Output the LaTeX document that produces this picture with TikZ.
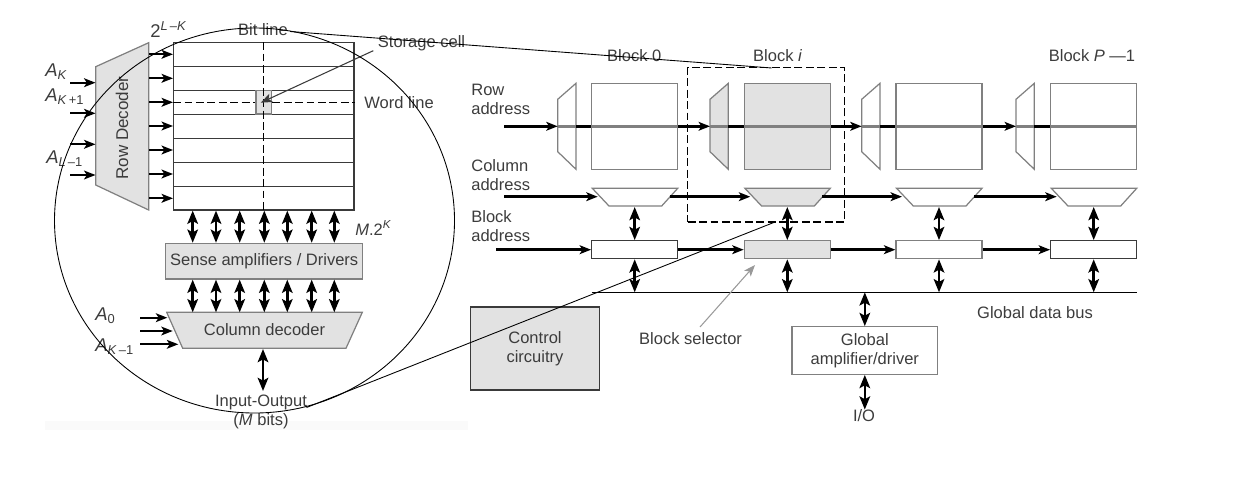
\documentclass[tikz,border=0pt]{standalone}
\usepackage{fontspec}
\setmainfont{Liberation Sans}
\usetikzlibrary{arrows.meta}
\definecolor{shade}{HTML}{E2E2E2}
\definecolor{edgegray}{HTML}{808080}
\definecolor{edgedark}{HTML}{3A3A3A}
\definecolor{txtgray}{HTML}{3C3C3C}
\tikzset{
  >={Stealth[length=6.5pt, width=5pt, inset=1.6pt]},
  label/.style={inner sep=0pt, text=txtgray, font=\fontsize{9.4}{10.9}\selectfont, align=center},
  ilabel/.style={label, anchor=west, font=\fontsize{10.5}{12}\selectfont},
  box/.style={draw=edgegray, line width=0.7pt, inner sep=0pt, text=txtgray, align=center, font=\fontsize{9.4}{10.9}\selectfont},
  thickline/.style={line width=1.7pt, black},
  grayline/.style={line width=1.5pt, edgegray},
  onearrow/.style={->, line width=1.5pt, black},
  bidir/.style={{Stealth[length=7.5pt, width=6pt, inset=1.6pt]}-{Stealth[length=7.5pt, width=6pt, inset=1.6pt]}, line width=1.4pt, black},
  leader/.style={->, line width=0.6pt, edgegray},
  thin line/.style={line width=0.5pt, black},
  longdash/.style={dash pattern=on 4.5pt off 2pt, black, line width=0.7pt}
}
\newcommand{\ital}[1]{\textit{#1}}
\begin{document}
\begin{tikzpicture}[x=0.02cm, y=-0.02cm]
	\useasboundingbox (0,0) rectangle (1240,490);

	% The faint strip under the lens
		\fill [black!2] (45,421) rectangle (468,430);

	% Row decoder and its inputs
		\draw [draw=edgegray, fill=shade, line width=0.7pt] (95.7,66.7) -- (148.7,42.7) -- (148.7,210) -- (95.7,185) -- cycle;
		\node [label, rotate=90, font=\fontsize{9.7}{10}\selectfont] (rowdecoder) at (122,128) {Row Decoder};
		\foreach \i/\y in {0/82.7, 1/113.3, 2/144.3, 3/175} {
			\coordinate (ain\i) at (70,\y);
			\coordinate (dec\i) at (95.5,\y);
			\draw [onearrow, line width=1.3pt] (ain\i) -- (dec\i);
			}

	% The memory array
		\node [box, draw=edgedark, minimum width=180.3*0.02cm, minimum height=167.3*0.02cm] (array) at (263.85,126.35) {};
		\foreach \y in {66.7, 90.7, 114, 138, 162, 186} {
			\coordinate (wleft) at (173.7,\y);
			\coordinate (wright) at (354,\y);
			\draw [edgedark, line width=0.5pt] (wleft) -- (wright);
			}
		\foreach \i/\y in {0/54.3, 1/78.3, 2/102.3, 3/126, 4/150, 5/174, 6/198.3} {
			\coordinate (dout\i) at (149,\y);
			\coordinate (wire\i) at (173,\y);
			\draw [onearrow, line width=1.3pt] (dout\i) -- (wire\i);
			}
		\node [box, fill=shade, minimum width=15.7*0.02cm, minimum height=23.3*0.02cm] (cell) at (263.85,102.35) {};
		\draw [longdash] (array.north) -- (array.south);
		\draw [longdash] (array.west |- cell) -- (cell.west);
		\draw [longdash] (cell.east) -- (array.east |- cell);

	% Sense amplifiers, column decoder and the lines between them
		\node [box, fill=shade, minimum width=197*0.02cm, minimum height=35.7*0.02cm] (sense) at (264.2,261.2) {Sense amplifiers / Drivers};
		\draw [draw=edgegray, fill=shade, line width=0.7pt] (166.7,312.3) -- (362.3,312.3) -- (346,348.3) -- (182.7,348.3) -- cycle;
		\node [label] (coldecoder) at (264.5,330) {Column decoder};
		\coordinate (coltop) at (264.5,312.3);
		\coordinate (colbot) at (263,349);
		\coordinate (ioend) at (263,391);
		\foreach \i/\x in {0/192.7, 1/216, 2/239.7, 3/264.3, 4/287.3, 5/311.7, 6/334.3} {
			\coordinate (tap\i) at (\x,0);
			\draw [bidir] (array.south -| tap\i) -- (sense.north -| tap\i);
			\draw [bidir] (sense.south -| tap\i) -- (coltop -| tap\i);
			}
		\draw [bidir] (colbot) -- (ioend);
		\foreach \i/\y/\e in {0/317.7/167.3, 1/331/172.7, 2/344.3/178.3} {
			\coordinate (cin\i) at (140,\y);
			\coordinate (cout\i) at (\e,\y);
			\draw [onearrow, line width=1.1pt] (cin\i) -- (cout\i);
			}

	% Labels of the left part
		\node [ilabel] (ak) at (45,72) {\ital{A}\textsubscript{\ital{K}}};
		\node [ilabel] (akone) at (45,97) {\ital{A}\textsubscript{\ital{K}\,+1}};
		\node [ilabel] (alone) at (46,159) {\ital{A}\textsubscript{\ital{L}\,--1}};
		\node [ilabel] (azero) at (95,316) {\ital{A}\textsubscript{0}};
		\node [ilabel] (akminus) at (95,347) {\ital{A}\textsubscript{\ital{K}\,--1}};
		\node [ilabel] (twopow) at (150,30) {2\textsuperscript{\ital{L\,--K}}};
		\node [label] (bitline) at (263,29.5) {Bit line};
		\node [label] (storage) at (421.5,43) {Storage cell};
		\node [label] (wordline) at (399,103) {Word line};
		\node [label, anchor=west] (mtwo) at (355,228) {\ital{M}.2\textsuperscript{\ital{K}}};
		\node [label] (inout) at (261,412) {Input-Output\\(\ital{M} bits)};
		\coordinate (cellfoot) at (373.3,50.7);
		\coordinate (cellhead) at (260.7,102.7);
		\draw [leader, edgedark] (cellfoot) -- (cellhead);

	% The four blocks: number/left edge/decoder edge/fill/edge of the selector
		\foreach \n/\x/\d/\fc/\sc in {0/591.7/557.7/white/edgedark, 1/744.3/710/shade/edgegray, 2/896/861.7/white/edgegray, 3/1050.7/1016/white/edgedark} {
			\draw [draw=edgegray, fill=\fc, line width=0.7pt] (\d,99.3) -- (\d+18.3,83.3) -- (\d+18.3,169.3) -- (\d,151.7) -- cycle;
			\node [box, fill=\fc, minimum width=86*0.02cm, minimum height=86*0.02cm] (mem\n) at (\x+43,126.3) {};
			\draw [draw=edgegray, fill=\fc, line width=0.7pt] (\x+0.6,188.3) -- (\x+86,188.3) -- (\x+70,206) -- (\x+17.3,206) -- cycle;
			\node [box, fill=\fc, draw=\sc, minimum width=86*0.02cm, minimum height=18*0.02cm] (sel\n) at (\x+43,249.7) {};
			\coordinate (rdecw\n) at (\d,126.3);
			\coordinate (rdece\n) at (\d+18.3,126.3);
			\coordinate (cdecw\n) at (\x+6,196.7);
			\coordinate (cdece\n) at (\x+78,196.7);
			\coordinate (cdecs\n) at (\x+43,207);
			}
		\coordinate (busw) at (591.7,292.3);
		\coordinate (buse) at (1136.5,292.3);
		\draw [thin line, line width=0.7pt] (busw) -- (buse);
		\foreach \n in {0,1,2,3} {
			\draw [thickline] (rdece\n) -- (mem\n.west);
			\draw [grayline] (rdecw\n) -- (rdece\n);
			\draw [grayline] (mem\n.west) -- (mem\n.east);
			\draw [bidir] (cdecs\n) -- (sel\n.north);
			\draw [bidir] (sel\n.south) -- (sel\n |- busw);
			}
		\foreach \a/\b in {0/1, 1/2, 2/3} {
			\draw [onearrow, line width=1.7pt] (mem\a.east) -- (rdecw\b);
			\draw [onearrow] (cdece\a) -- (cdecw\b);
			\draw [onearrow] (sel\a.east) -- (sel\b.west);
			}

	% The three address lines come in from the left
		\coordinate (rowstart) at (504.3,126.3);
		\coordinate (colstart) at (504.3,196.7);
		\coordinate (blkstart) at (496,249.7);
		\draw [onearrow, line width=1.7pt] (rowstart) -- (rdecw0);
		\draw [onearrow] (colstart) -- (cdecw0);
		\draw [onearrow] (blkstart) -- (sel0.west);
		\node [label, align=left, anchor=west] (rowaddr) at (471,99) {Row\\address};
		\node [label, align=left, anchor=west] (coladdr) at (471,175) {Column\\address};
		\node [label, align=left, anchor=west] (blkaddr) at (471,226) {Block\\address};
		\node [label] (blockzero) at (634.3,55.7) {Block 0};
		\node [label] (blocki) at (777.7,55.7) {Block \ital{i}};
		\node [label] (blockp) at (1092,55.7) {Block \ital{P} ---1};

	% Dashed frame round block i
		\node [draw=black, dashed, line width=0.6pt, dash pattern=on 4.5pt off 2pt, inner sep=0pt, minimum width=157*0.02cm, minimum height=154.7*0.02cm] (frame) at (766.2,144.65) {};

	% Control, global amplifier and the bottom labels
		\node [box, fill=shade, draw=edgedark, minimum width=129*0.02cm, minimum height=83*0.02cm] (control) at (535,348.5) {Control\\circuitry};
		\node [box, minimum width=145.7*0.02cm, minimum height=47.6*0.02cm] (amp) at (864.8,350.5) {Global\\amplifier/driver};
		\node [label] (iolabel) at (864,416) {I/O};
		\node [label] (busname) at (1035,313) {Global data bus};
		\node [label] (selname) at (690.6,339) {Block selector};
		\coordinate (ampbus) at (amp.north |- busw);
		\coordinate (ioarrow) at (amp.south |- iolabel.north);
		\draw [bidir] (ampbus) -- (amp.north);
		\draw [bidir] (amp.south) -- (ioarrow);
		\coordinate (selfoot) at (700,327);
		\coordinate (selhead) at (755,265);
		\draw [leader, black!40] (selfoot) -- (selhead);

	% The lens and the two lines that leave it
		\draw [thin line] (254.5,220.5) ellipse [x radius=200, y radius=192.5];
		\coordinate (lenstop) at (290,31.5);
		\coordinate (lensbot) at (306.5,407.5);
		\coordinate (framehit) at (771.7,68);
		\coordinate (framelow) at (775,222);
		\draw [thin line] (lenstop) -- (framehit);
		\draw [thin line] (lensbot) -- (framelow);
\end{tikzpicture}
\end{document}
